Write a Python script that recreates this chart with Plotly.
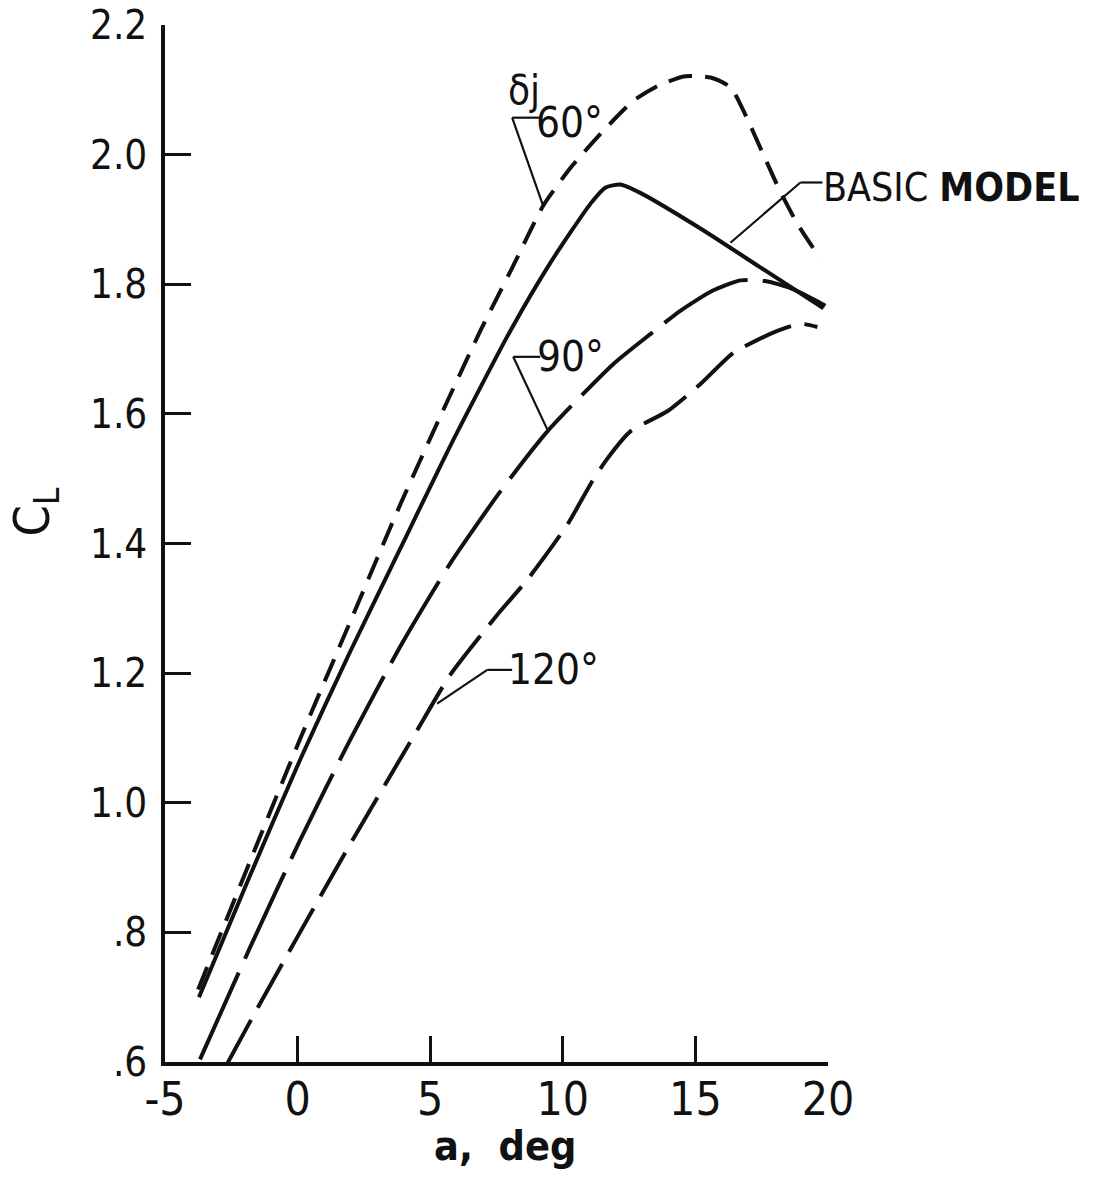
import plotly.graph_objects as go

# ---------------- data ----------------
basic_alpha = [-3.72, -1.79, 0.09, 1.98, 3.87, 5.75, 8.02, 9.53, 11.04, 11.6, 12.17, 12.92, 15.19, 17.45, 19.83]
basic_cl = [0.700, 0.888, 1.066, 1.233, 1.392, 1.550, 1.728, 1.833, 1.924, 1.949, 1.954, 1.941, 1.886, 1.826, 1.763]

dj60_alpha = [-3.75, -1.79, 0.09, 1.98, 3.87, 5.38, 6.89, 8.1, 9.26, 10.3, 11.42, 12.66, 13.68, 14.62, 15.57, 16.32, 16.81, 17.53, 18.13, 18.85, 19.72]
dj60_cl = [0.712, 0.910, 1.098, 1.279, 1.460, 1.596, 1.728, 1.826, 1.921, 1.980, 2.032, 2.083, 2.108, 2.121, 2.119, 2.104, 2.068, 2.003, 1.949, 1.893, 1.839]

dj90_alpha = [-3.68, -1.79, 0.09, 1.98, 3.87, 5.75, 7.64, 9.42, 11.91, 13.30, 14.43, 15.64, 16.70, 17.64, 18.58, 19.45, 19.9]
dj90_cl = [0.604, 0.777, 0.942, 1.097, 1.241, 1.369, 1.480, 1.573, 1.677, 1.723, 1.759, 1.790, 1.806, 1.805, 1.794, 1.777, 1.767]

dj120_alpha = [-2.66, -1.42, 0.09, 1.98, 4.51, 5.75, 7.53, 8.66, 10.17, 11.11, 11.68, 12.55, 13.94, 15.19, 16.43, 18.09, 18.96, 19.6]
dj120_cl = [0.597, 0.690, 0.800, 0.936, 1.112, 1.197, 1.290, 1.344, 1.429, 1.496, 1.531, 1.573, 1.604, 1.646, 1.694, 1.728, 1.739, 1.734]

x_ticks = [-5, 0, 5, 10, 15, 20]
x_tick_labels = ["-5", "0", "5", "10", "15", "20"]
y_ticks = [0.6, 0.8, 1.0, 1.2, 1.4, 1.6, 1.8, 2.0, 2.2]
y_tick_labels = [".6", ".8", "1.0", "1.2", "1.4", "1.6", "1.8", "2.0", "2.2"]

# label texts and leader lines (data coordinates)
labels = ["60°", "90°", "120°", "BASIC <b>MODEL</b>"]
label_size = [42, 42, 42, 39]
label_x = [8.9, 8.95, 7.85, 19.75]
label_y = [2.050, 1.689, 1.205, 1.950]
leader_corner_x = [8.09, 8.13, 7.15, 18.96]
leader_corner_y = [2.057, 1.688, 1.205, 1.957]
leader_tail_x = [9.15, 9.15, 8.09, 19.79]
leader_tip_x = [9.26, 9.45, 5.26, 16.32]
leader_tip_y = [1.921, 1.573, 1.153, 1.864]

FONT = "Liberation Sans Narrow, DejaVu Sans Condensed, Arial Narrow, sans-serif"
BLACK = "#111111"

fig = go.Figure()
fig.add_trace(go.Scatter(x=dj60_alpha, y=dj60_cl, mode="lines",
                         line=dict(color=BLACK, width=4, dash="24px,13px", shape="spline", smoothing=0.6)))
fig.add_trace(go.Scatter(x=basic_alpha, y=basic_cl, mode="lines",
                         line=dict(color=BLACK, width=4, shape="spline", smoothing=0.6)))
fig.add_trace(go.Scatter(x=dj90_alpha, y=dj90_cl, mode="lines",
                         line=dict(color=BLACK, width=4, dash="95px,15px", shape="spline", smoothing=0.6)))
fig.add_trace(go.Scatter(x=dj120_alpha, y=dj120_cl, mode="lines",
                         line=dict(color=BLACK, width=4, dash="50px,14px", shape="spline", smoothing=0.6)))

# leader lines and labels
for i in range(len(labels)):
    fig.add_shape(type="line", x0=leader_corner_x[i], y0=leader_corner_y[i], x1=leader_tail_x[i], y1=leader_corner_y[i],
                  xref="x", yref="y", line=dict(color=BLACK, width=2.2))
    fig.add_shape(type="line", x0=leader_corner_x[i], y0=leader_corner_y[i], x1=leader_tip_x[i], y1=leader_tip_y[i],
                  xref="x", yref="y", line=dict(color=BLACK, width=2.2))
    fig.add_annotation(x=label_x[i], y=label_y[i], xref="x", yref="y", text=labels[i], showarrow=False,
                       xanchor="left", yanchor="middle",
                       font=dict(family=FONT, size=label_size[i], color=BLACK))

fig.add_annotation(x=8.55, y=2.099, xref="x", yref="y", text="δj", showarrow=False,
                   xanchor="center", yanchor="middle", font=dict(family=FONT, size=40, color=BLACK))

# axis titles
fig.add_annotation(x=0.513, y=-0.081, xref="paper", yref="paper", text="<b>a,  deg</b>", showarrow=False,
                   xanchor="center", yanchor="middle", font=dict(family=FONT, size=41, color=BLACK))
fig.add_annotation(x=-0.196, y=1.448, xref="paper", yref="y", text="C<sub>L</sub>", showarrow=False,
                   textangle=-90, xanchor="center", yanchor="middle", font=dict(family=FONT, size=50, color=BLACK))

fig.update_layout(
    width=1100, height=1188,
    margin=dict(l=165, r=272, t=25, b=126),
    paper_bgcolor="white", plot_bgcolor="white",
    showlegend=False,
)
fig.update_xaxes(range=[-5, 20], tickmode="array", tickvals=x_ticks, ticktext=x_tick_labels,
                 ticks="inside", ticklen=26, tickwidth=3, tickcolor=BLACK, automargin=False,
                 showline=True, linewidth=3.5, linecolor=BLACK, showgrid=False, zeroline=False,
                 tickfont=dict(family=FONT, size=46, color=BLACK), ticklabelstandoff=-6,
                 ticklabeloverflow="allow")
fig.update_yaxes(range=[0.6, 2.2], tickmode="array", tickvals=y_ticks, ticktext=y_tick_labels,
                 ticks="inside", ticklen=26, tickwidth=3, tickcolor=BLACK, automargin=False,
                 showline=True, linewidth=3.5, linecolor=BLACK, showgrid=False, zeroline=False,
                 tickfont=dict(family=FONT, size=40, color=BLACK), ticklabelstandoff=6,
                 ticklabeloverflow="allow")

# remove the default 8px page margin so the 1100x1188 figure fills the window exactly
fig.write_html("out.html", config={"displayModeBar": False},
               post_script="document.body.style.margin='0';")
